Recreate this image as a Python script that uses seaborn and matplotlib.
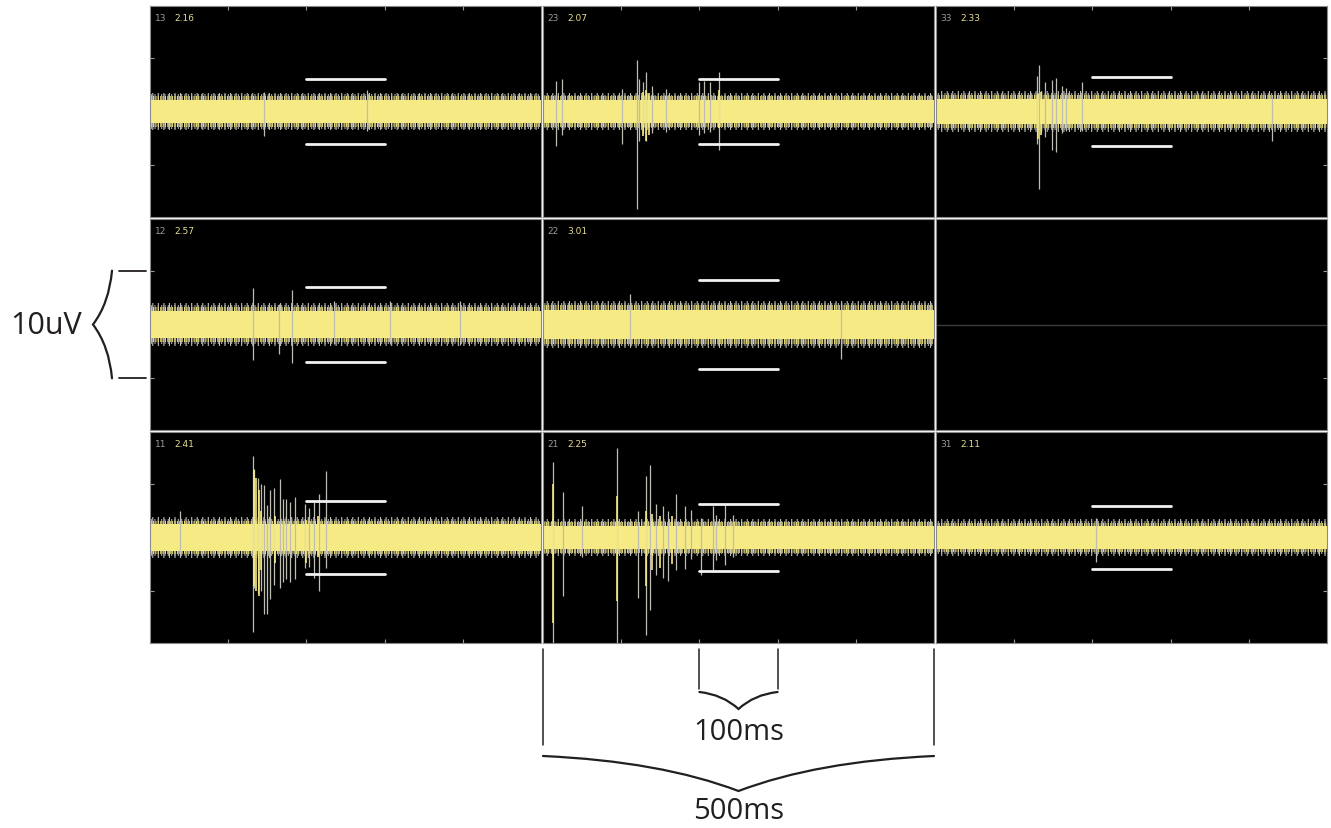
import pandas as pd
import seaborn as sns
import matplotlib.pyplot as plt
from matplotlib.path import Path
from matplotlib.patches import PathPatch

# 3x3 electrode grid, row by row (None = channel not shown)
channels = [13, 23, 33, 12, 22, None, 11, 21, 31]
rms_labels = ["2.16", "2.07", "2.33", "2.57", "3.01", None, "2.41", "2.25", "2.11"]
# detection threshold (+/- uV), drawn between 200 and 300 ms
thresholds = [3.0, 3.0, 3.2, 3.5, 4.15, None, 3.35, 3.1, 2.9]
# half width of noise band: solid part and where the noise tips end (uV)
band_core = [1.1, 1.1, 1.2, 1.3, 1.35, None, 1.25, 1.1, 1.05]
band_tips = [1.75, 1.7, 1.9, 2.0, 2.2, None, 1.9, 1.7, 1.7]
window_ms = [0, 500]
thr_window_ms = [200, 300]

# big spikes: time (ms), upper peak, lower peak (uV)
t13 = [146, 278]
hi13 = [1.8, 2.0]
lo13 = [-2.3, -1.8]

t23 = [16.6, 23.8, 100.8, 119.9, 122.9, 128, 132.2, 139, 157, 199.4, 205.8, 213, 224.5]
hi23 = [2.8, 3.0, 2.1, 4.8, 3.05, 2.7, 3.7, 2.4, 2.1, 2.7, 2.8, 2.7, 3.7]
lo23 = [-3.2, -2.2, -3.05, -9.1, -2.7, -2.0, -2.7, -2.0, -1.9, -2.2, -2.0, -1.9, -3.6]

t33 = [129.3, 131.8, 139, 148.8, 153.9, 161.6, 166.7, 187, 430]
hi33 = [3.3, 4.3, 2.7, 2.9, 3.1, 2.4, 2.2, 2.7, 1.5]
lo33 = [-3.0, -7.2, -2.4, -3.6, -3.8, -2.0, -1.8, -1.8, -2.7]

t12 = [131.4, 164.6, 181.1, 234.7, 306.9, 396]
hi12 = [3.4, 1.9, 3.2, 2.2, 2.2, 2.2]
lo12 = [-3.3, -2.7, -3.6, -1.8, -1.8, -1.9]

t22 = [111.8, 381]
hi22 = [2.8, 2.0]
lo22 = [-2.0, -3.2]

t11 = [39, 131.8, 133.5, 137.8, 142, 146.3, 149, 153.9, 159, 165.8, 169.6, 173.9,
       179.4, 185.4, 198.1, 203.2, 209.2, 216.4, 224.9]
hi11 = [2.5, 7.6, 6.4, 5.5, 5.0, 4.9, 3.0, 4.4, 4.6, 5.4, 3.6, 3.6, 3.3, 3.8, 3.1, 2.7, 3.3, 4.0, 6.2]
lo11 = [-1.8, -8.8, -4.7, -5.2, -5.0, -7.1, -7.1, -5.7, -4.4, -4.7, -4.1, -3.9, -4.1, -3.9,
        -2.8, -2.7, -3.8, -5.0, -2.8]

t21 = [12.3, 25.1, 49.7, 95.2, 121.6, 132.2, 136.5, 145, 153.5, 160, 169.7, 181.1, 189.6,
       202.4, 217.3, 221.5, 232.2, 242.8]
hi21 = [7.0, 4.2, 2.9, 8.3, 2.5, 5.75, 6.7, 3.1, 2.9, 2.5, 4.0, 2.9, 2.6, 1.8, 2.9, 2.1, 3.1, 2.1]
lo21 = [-10, -5.4, -1.8, -10, -5.6, -9.1, -6.7, -3.5, -3.8, -4.0, -3.05, -2.9, -2.0, -3.5,
        -3.05, -2.1, -2.6, -1.8]

t31 = [204]
hi31 = [1.8]
lo31 = [-2.3]

# yellow part of the spike bursts
yt23, yhi23, ylo23 = [128, 132, 136, 224.5], [1.8, 2.0, 1.7, 2.0], [-2.3, -2.7, -2.2, -1.5]
yt33, yhi33, ylo33 = [130, 134], [1.6, 1.8], [-2.6, -2.2]
yt11, yhi11, ylo11 = [133, 136, 139, 142, 160, 200, 215], [6.3, 5.5, 4.4, 2.5, 2.0, 1.6, 2.0], \
    [-4.5, -5.0, -5.4, -3.0, -2.4, -2.4, -1.8]
yt21, yhi21, ylo21 = [12.3, 95.2, 132, 140, 150, 165], [5.0, 3.9, 2.5, 2.2, 2.0, 2.0], \
    [-7.9, -5.9, -4.5, -3.0, -2.8, -2.5]

spikes = {13: (t13, hi13, lo13), 23: (t23, hi23, lo23), 33: (t33, hi33, lo33),
          12: (t12, hi12, lo12), 22: (t22, hi22, lo22), 11: (t11, hi11, lo11),
          21: (t21, hi21, lo21), 31: (t31, hi31, lo31)}
yellow_spikes = {23: (yt23, yhi23, ylo23), 33: (yt33, yhi33, ylo33),
                 11: (yt11, yhi11, ylo11), 21: (yt21, yhi21, ylo21)}

sns.set_theme(style="white")
plt.rcParams["font.family"] = ["Open Sans", "DejaVu Sans"]
plt.rcParams["hatch.linewidth"] = 0.8

W, H = 1331, 829
fig = plt.figure(figsize=(W / 100, H / 100), dpi=100)
col_left = [150, 543, 936]
row_top = [7, 220, 433]
pw, ph = 391, 211

yellow = "#f6ea84"
tip_grey = "#bdbdb4"
ink = "#231f20"

axes = []
for i, ch in enumerate(channels):
    r, c = divmod(i, 3)
    ax = fig.add_axes([col_left[c] / W, (H - row_top[r] - ph) / H, pw / W, ph / H])
    ax.set_facecolor("black")
    ax.set_xlim(0, 500)
    ax.set_ylim(-9.8, 9.8)
    ax.set_xticks([100, 200, 300, 400])
    ax.set_yticks([-5, 5])
    ax.tick_params(axis="x", direction="in", length=3, width=0.8, color="#9a9a9a",
                   top=(r == 0), bottom=(r == 2), labelbottom=False, labeltop=False)
    ax.tick_params(axis="y", direction="in", length=3, width=0.8, color="#9a9a9a",
                   left=(c == 0), right=(c == 2), labelleft=False, labelright=False)
    for s in ax.spines.values():
        s.set_color("#8a8a8a")
        s.set_linewidth(0.8)
    axes.append(ax)

    if ch is None:
        ax.axhline(0, color="#3a3a3a", lw=1)
        continue

    core, tips = band_core[i], band_tips[i]
    mid = (core + tips) / 2
    # noise fringe (layered hatches of different spacing), then the solid band
    ax.fill_between(window_ms, [-tips] * 2, [tips] * 2, facecolor="none",
                    edgecolor=tip_grey, hatch="|||", lw=0)
    ax.fill_between(window_ms, [-(mid + tips) / 2] * 2, [(mid + tips) / 2] * 2, facecolor="none",
                    edgecolor="#a9a9a0", hatch="|||||", lw=0)
    ax.fill_between(window_ms, [-mid] * 2, [mid] * 2, facecolor="none",
                    edgecolor="#e3d87c", hatch="|||||||", lw=0)
    st, shi, slo = spikes[ch]
    ax.vlines(st, slo, shi, color=tip_grey, lw=0.9)
    ax.fill_between(window_ms, [-core] * 2, [core] * 2, color=yellow, lw=0)
    if ch in yellow_spikes:
        yt, yhi, ylo = yellow_spikes[ch]
        ax.vlines(yt, ylo, yhi, color=yellow, lw=1.2)

    thr = thresholds[i]
    for sign in (1, -1):
        sns.lineplot(x=thr_window_ms, y=[sign * thr] * 2, color="#f2f2f2", lw=2, ax=ax)

    ax.text(0.012, 0.945, str(ch), color="#9a9a9a", fontsize=6.5, family="DejaVu Sans",
            transform=ax.transAxes, va="center", ha="left")
    ax.text(0.062, 0.945, rms_labels[i], color="#e6dc94", fontsize=6.5, family="DejaVu Sans",
            transform=ax.transAxes, va="center", ha="left")

# overlay for the scale annotations, in pixel coordinates
ov = fig.add_axes([0, 0, 1, 1])
ov.set_xlim(0, W)
ov.set_ylim(0, H)
ov.axis("off")
ov.patch.set_alpha(0)


def brace(p0, tip, p1, vertical=False):
    (x0, y0), (xt, yt), (x1, y1) = p0, tip, p1
    if vertical:
        c1 = (x0 + 0.15 * (xt - x0), y0 + 0.6 * (yt - y0))
        c2 = (x1 + 0.15 * (xt - x1), y1 + 0.6 * (yt - y1))
    else:
        c1 = (x0 + 0.6 * (xt - x0), y0 + 0.15 * (yt - y0))
        c2 = (x1 + 0.6 * (xt - x1), y1 + 0.15 * (yt - y1))
    codes = [Path.MOVETO, Path.CURVE3, Path.CURVE3, Path.CURVE3, Path.CURVE3]
    ov.add_patch(PathPatch(Path([p0, c1, tip, c2, p1], codes), fill=False, lw=1.6,
                           edgecolor=ink, capstyle="round"))


# 100 ms and 500 ms scale bars under channel 21
ax21 = axes[7]
(xa, yb), (xb, _) = ax21.transData.transform([(200, -9.8), (300, -9.8)])
for x in (xa, xb):
    ov.plot([x, x], [yb - 6, yb - 46], color=ink, lw=1.1)
brace((xa, yb - 49), ((xa + xb) / 2, yb - 66), (xb, yb - 49))
ov.text((xa + xb) / 2, yb - 89, "100ms", color=ink, fontsize=21, ha="center", va="center")

(x0, _), (x1, _) = ax21.transData.transform([(0, -9.8), (500, -9.8)])
for x in (x0, x1):
    ov.plot([x, x], [yb - 6, yb - 102], color=ink, lw=1.1)
brace((x0, yb - 113), ((x0 + x1) / 2, yb - 148), (x1, yb - 113))
ov.text((x0 + x1) / 2, yb - 168, "500ms", color=ink, fontsize=21, ha="center", va="center")

# 10 uV scale bar beside channel 12
ax12 = axes[3]
(xl, ylo_px), (_, yhi_px) = ax12.transData.transform([(0, -5), (0, 5)])
for y in (ylo_px, yhi_px):
    ov.plot([xl - 31, xl - 4], [y, y], color=ink, lw=1.3)
brace((xl - 38, yhi_px), (xl - 57, (ylo_px + yhi_px) / 2), (xl - 38, ylo_px), vertical=True)
ov.text(xl - 68, (ylo_px + yhi_px) / 2, "10uV", color=ink, fontsize=22, ha="right", va="center")

fig.savefig("out.png", dpi=100)
